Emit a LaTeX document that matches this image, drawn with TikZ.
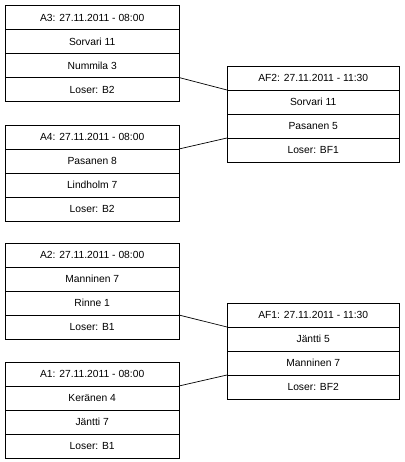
\documentclass[tikz,border=0pt]{standalone}
\usepackage{fontspec}
\setmainfont{Liberation Sans}
\tikzset{
  row/.style={minimum height=23.6pt, inner sep=0pt, anchor=north west, font=\fontsize{10.3}{12}\selectfont},
  narrow/.style={row, minimum width=173pt},
  wide/.style={row, minimum width=172pt},
  frame/.style={draw, line width=0.8pt},
  link/.style={draw, line width=0.7pt}
}
\newcommand{\mybox}[7]{%
  \node[#2] (#1a) at (#3) {#4};
  \node[#2] (#1b) at (#1a.south west) {#5};
  \node[#2] (#1c) at (#1b.south west) {#6};
  \node[#2] (#1d) at (#1c.south west) {#7};
  \draw[frame] (#1a.north west) rectangle (#1d.south east);
  \draw[frame] (#1a.south west) -- (#1a.south east);
  \draw[frame] (#1b.south west) -- (#1b.south east);
  \draw[frame] (#1c.south west) -- (#1c.south east);
}
\begin{document}
\begin{tikzpicture}[x=1pt,y=-1pt]
\useasboundingbox (0,0) rectangle (404,462);
\mybox{A3}{narrow}{5.5,5.5}{A3: 27.11.2011 - 08:00}{Sorvari 11}{Nummila 3}{Loser: B2}
\mybox{A4}{narrow}{5.5,125}{A4: 27.11.2011 - 08:00}{Pasanen 8}{Lindholm 7}{Loser: B2}
\mybox{AF2}{wide}{227,66}{AF2: 27.11.2011 - 11:30}{Sorvari 11}{Pasanen 5}{Loser: BF1}
\mybox{A2}{narrow}{5.5,243}{A2: 27.11.2011 - 08:00}{Manninen 7}{Rinne 1}{Loser: B1}
\mybox{A1}{narrow}{5.5,362}{A1: 27.11.2011 - 08:00}{Keränen 4}{Jäntti 7}{Loser: B1}
\mybox{AF1}{wide}{227,303}{AF1: 27.11.2011 - 11:30}{Jäntti 5}{Manninen 7}{Loser: BF2}
\draw[link] (A3c.south east) -- (AF2a.south west);
\draw[link] (A4a.south east) -- (AF2c.south west);
\draw[link] (A2c.south east) -- (AF1a.south west);
\draw[link] (A1a.south east) -- (AF1c.south west);
\end{tikzpicture}
\end{document}
